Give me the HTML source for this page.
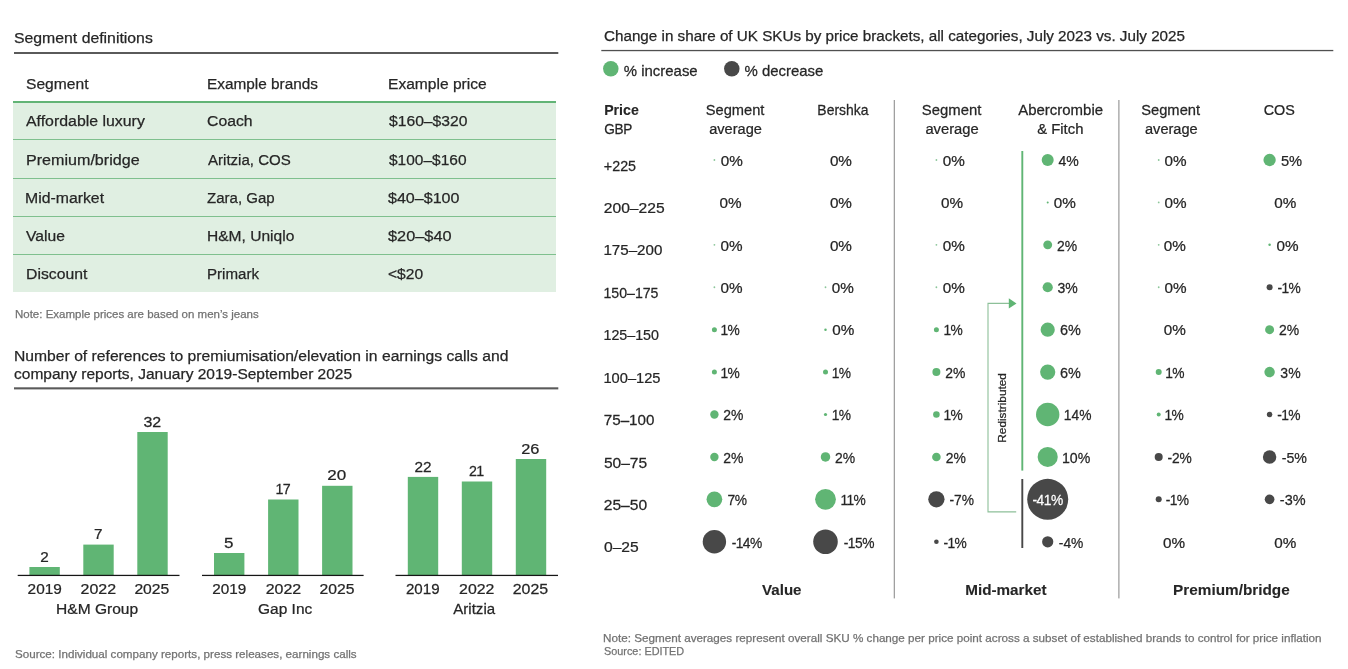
<!DOCTYPE html>
<html lang="en">
<head>
<meta charset="utf-8">
<title>Premiumisation: segment definitions and UK SKU price bracket shifts</title>
<style>
html,body{margin:0;padding:0;background:#fff;}
body{width:1348px;height:669px;overflow:hidden;position:relative;font-family:"Liberation Sans",Arial,Helvetica,sans-serif;color:#262626;-webkit-text-stroke:0.25px #262626;}
#page{position:absolute;left:0;top:0;width:1348px;height:669px;overflow:hidden;background:#fff;}
.t{position:absolute;margin:0;white-space:nowrap;font-weight:400;transform-origin:0 0;}
.note{position:absolute;margin:0;white-space:nowrap;color:#727272;transform-origin:0 0;-webkit-text-stroke:0.25px #727272;}
.seg{position:absolute;left:13px;top:66px;width:543.3px;height:226.3px;}
.seg .bg{position:absolute;left:0;top:36px;width:100%;height:190.3px;background:#e0efe2;}
.seg .ln{position:absolute;left:0;width:100%;height:1px;background:#7fc08e;}
.seg .hl{position:absolute;left:0;top:35px;width:100%;height:2px;background:#62b476;}
.seg table{position:absolute;left:0;top:0;width:100%;border-collapse:separate;border-spacing:0;}
.seg th,.seg td{padding:0;height:38px;font-weight:400;text-align:left;}
.seg span{position:absolute;white-space:nowrap;line-height:18px;transform-origin:0 0;}
svg{position:absolute;left:0;top:0;overflow:visible;}
svg text{font-family:"Liberation Sans",Arial,Helvetica,sans-serif;fill:#262626;stroke:#262626;stroke-width:0.25px;}
</style>
</head>
<body>
<div id="page">

<section>
<h2 class="t" style="left:13.99px;top:29px;font-size:15.5px;line-height:17px;transform:scaleX(1.0194);">Segment definitions</h2>
<svg class="rule" width="1348" height="669" viewBox="0 0 1348 669"><rect x="14" y="52" width="544.3" height="2" fill="#5a5a5a"/><rect x="14" y="387.3" width="544.3" height="2.1" fill="#5a5a5a"/><rect x="601.3" y="49.9" width="732" height="1.3" fill="#505050"/></svg>
<div class="seg"><div class="bg"></div><div class="hl"></div>
<div class="ln" style="top:73px"></div>
<div class="ln" style="top:112px"></div>
<div class="ln" style="top:150px"></div>
<div class="ln" style="top:188px"></div>
<table>
<thead><tr><th><span style="left:12.69px;top:9px;font-size:15.5px;line-height:17px;transform:scaleX(1.0077)">Segment</span></th><th><span style="left:194.01px;top:9px;font-size:15.5px;line-height:17px;transform:scaleX(0.9913)">Example brands</span></th><th><span style="left:374.79px;top:9px;font-size:15.5px;line-height:17px;transform:scaleX(1.0053)">Example price</span></th></tr></thead><tbody>
<tr><td><span style="left:13.40px;top:46px;font-size:15.5px;line-height:17px;transform:scaleX(1.0243)">Affordable luxury</span></td><td><span style="left:193.99px;top:46px;font-size:15.5px;line-height:17px;transform:scaleX(1.0166)">Coach</span></td><td><span style="left:375.50px;top:46px;font-size:15.5px;line-height:17px;transform:scaleX(1.0109)">$160–$320</span></td></tr>
<tr><td><span style="left:12.65px;top:85px;font-size:15.5px;line-height:17px;transform:scaleX(1.0383)">Premium/bridge</span></td><td><span style="left:194.70px;top:85px;font-size:15.5px;line-height:17px;transform:scaleX(0.9713)">Aritzia, COS</span></td><td><span style="left:375.50px;top:85px;font-size:15.5px;line-height:17px;transform:scaleX(0.9992)">$100–$160</span></td></tr>
<tr><td><span style="left:12.18px;top:123px;font-size:15.5px;line-height:17px;transform:scaleX(1.0197)">Mid-market</span></td><td><span style="left:194.21px;top:123px;font-size:15.5px;line-height:17px;transform:scaleX(0.9700)">Zara, Gap</span></td><td><span style="left:375.40px;top:123px;font-size:15.5px;line-height:17px;transform:scaleX(1.0360)">$40–$100</span></td></tr>
<tr><td><span style="left:13.10px;top:161px;font-size:15.5px;line-height:17px;transform:scaleX(1.0087)">Value</span></td><td><span style="left:193.70px;top:161px;font-size:15.5px;line-height:17px;transform:scaleX(1.0038)">H&amp;M, Uniqlo</span></td><td><span style="left:375.39px;top:161px;font-size:15.5px;line-height:17px;transform:scaleX(1.0532)">$20–$40</span></td></tr>
<tr><td><span style="left:12.68px;top:199px;font-size:15.5px;line-height:17px;transform:scaleX(1.0170)">Discount</span></td><td><span style="left:194.03px;top:199px;font-size:15.5px;line-height:17px;transform:scaleX(0.9744)">Primark</span></td><td><span style="left:374.80px;top:199px;font-size:15.5px;line-height:17px;transform:scaleX(1.0062)">&lt;$20</span></td></tr>
</tbody></table></div>
<p class="note" style="left:15.00px;top:308px;font-size:11.5px;line-height:12px;transform:scaleX(0.9987);">Note: Example prices are based on men’s jeans</p>
</section>
<section>
<h2 class="t" style="left:13.59px;top:347px;font-size:15.5px;line-height:17px;transform:scaleX(1.0120);">Number of references to premiumisation/elevation in earnings calls and</h2>
<h2 class="t" style="left:13.50px;top:365px;font-size:15.5px;line-height:17px;transform:scaleX(1.0011);">company reports, January 2019-September 2025</h2>
<svg width="1348" height="669" viewBox="0 0 1348 669">
<rect x="29.40" y="567.00" width="30.40" height="8.30" fill="#60b574"/>
<text transform="translate(40.21 562) scale(0.9861 1)" style="font-size:15.5px;">2</text>
<text transform="translate(27.61 594) scale(0.9921 1)" style="font-size:15.5px;">2019</text>
<rect x="83.30" y="544.60" width="30.40" height="30.70" fill="#60b574"/>
<text transform="translate(94.01 539) scale(0.9861 1)" style="font-size:15.5px;">7</text>
<text transform="translate(80.58 594) scale(1.0314 1)" style="font-size:15.5px;">2022</text>
<rect x="137.30" y="432.00" width="30.40" height="143.30" fill="#60b574"/>
<text transform="translate(143.49 427) scale(1.0299 1)" style="font-size:15.5px;">32</text>
<text transform="translate(134.39 594) scale(1.0132 1)" style="font-size:15.5px;">2025</text>
<rect x="17.70" y="574.80" width="161.80" height="1.25" fill="#161616"/>
<text transform="translate(56.10 614) scale(1.0036 1)" style="font-size:15.5px;">H&amp;M Group</text>
<rect x="214.00" y="553.00" width="30.40" height="22.30" fill="#60b574"/>
<text transform="translate(224.04 548) scale(1.0946 1)" style="font-size:15.5px;">5</text>
<text transform="translate(212.21 594) scale(0.9861 1)" style="font-size:15.5px;">2019</text>
<rect x="268.10" y="499.50" width="30.40" height="75.80" fill="#60b574"/>
<text transform="translate(275.47 494) scale(0.9200 1)" style="font-size:15.5px;letter-spacing:-0.70px;">17</text>
<text transform="translate(265.68 594) scale(1.0314 1)" style="font-size:15.5px;">2022</text>
<rect x="322.10" y="485.80" width="30.40" height="89.50" fill="#60b574"/>
<text transform="translate(327.13 480) scale(1.1000 1)" style="font-size:15.5px;letter-spacing:0.16px;">20</text>
<text transform="translate(319.49 594) scale(1.0132 1)" style="font-size:15.5px;">2025</text>
<rect x="202.00" y="574.80" width="161.60" height="1.25" fill="#161616"/>
<text transform="translate(258.10 614) scale(0.9976 1)" style="font-size:15.5px;">Gap Inc</text>
<rect x="407.80" y="476.90" width="30.40" height="98.40" fill="#60b574"/>
<text transform="translate(414.41 472) scale(0.9924 1)" style="font-size:15.5px;">22</text>
<text transform="translate(405.92 594) scale(0.9770 1)" style="font-size:15.5px;">2019</text>
<rect x="461.80" y="481.50" width="30.40" height="93.80" fill="#60b574"/>
<text transform="translate(468.95 476) scale(0.9200 1)" style="font-size:15.5px;letter-spacing:-0.70px;">21</text>
<text transform="translate(459.08 594) scale(1.0254 1)" style="font-size:15.5px;">2022</text>
<rect x="515.80" y="459.00" width="30.40" height="116.30" fill="#60b574"/>
<text transform="translate(521.26 454) scale(1.0553 1)" style="font-size:15.5px;">26</text>
<text transform="translate(512.68 594) scale(1.0283 1)" style="font-size:15.5px;">2025</text>
<rect x="395.50" y="574.80" width="162.50" height="1.25" fill="#161616"/>
<text transform="translate(453.30 614) scale(0.9712 1)" style="font-size:15.5px;">Aritzia</text>
</svg>
<p class="note" style="left:14.69px;top:648px;font-size:11.5px;line-height:12px;transform:scaleX(1.0104);">Source: Individual company reports, press releases, earnings calls</p>
</section>
<section>
<h2 class="t" style="left:603.70px;top:27px;font-size:15.200000000000001px;line-height:17px;transform:scaleX(1.0018);">Change in share of UK SKUs by price brackets, all categories, July 2023 vs. July 2025</h2>
<svg width="1348" height="669" viewBox="0 0 1348 669">
<circle cx="610.80" cy="68.80" r="7.75" fill="#60b574"/>
<text transform="translate(623.80 76) scale(1.0100 1)" style="font-size:14.8px;">% increase</text>
<circle cx="731.80" cy="68.80" r="7.75" fill="#484848"/>
<text transform="translate(744.49 76) scale(1.0101 1)" style="font-size:14.8px;">% decrease</text>
<text transform="translate(604.14 115) scale(0.9577 1)" style="font-size:14.8px;font-weight:700;stroke-width:0.1px">Price</text>
<text transform="translate(604.26 134) scale(0.9200 1)" style="font-size:14.8px;letter-spacing:-0.38px;">GBP</text>
<text transform="translate(705.71 115) scale(0.9911 1)" style="font-size:14.8px;">Segment</text>
<text transform="translate(709.21 134) scale(0.9875 1)" style="font-size:14.8px;">average</text>
<text transform="translate(817.37 115) scale(0.9424 1)" style="font-size:14.8px;">Bershka</text>
<text transform="translate(921.80 115) scale(1.0064 1)" style="font-size:14.8px;">Segment</text>
<text transform="translate(925.40 134) scale(0.9971 1)" style="font-size:14.8px;">average</text>
<text transform="translate(1018.20 115) scale(1.0124 1)" style="font-size:14.8px;">Abercrombie</text>
<text transform="translate(1037.20 134) scale(1.0039 1)" style="font-size:14.8px;">&amp; Fitch</text>
<text transform="translate(1141.20 115) scale(0.9945 1)" style="font-size:14.8px;">Segment</text>
<text transform="translate(1145.01 134) scale(0.9856 1)" style="font-size:14.8px;">average</text>
<text transform="translate(1263.72 115) scale(0.9707 1)" style="font-size:14.8px;">COS</text>
<rect x="893.75" y="100.00" width="1.10" height="498.40" fill="#909090"/>
<rect x="1118.35" y="100.00" width="1.10" height="498.40" fill="#909090"/>
<text transform="translate(603.83 171) scale(0.9556 1)" style="font-size:15.0px;">+225</text>
<text transform="translate(603.77 213) scale(1.0428 1)" style="font-size:15.0px;">200–225</text>
<text transform="translate(603.39 255) scale(1.0096 1)" style="font-size:15.0px;">175–200</text>
<text transform="translate(603.46 298) scale(0.9427 1)" style="font-size:15.0px;">150–175</text>
<text transform="translate(603.45 340) scale(0.9515 1)" style="font-size:15.0px;">125–150</text>
<text transform="translate(603.42 383) scale(0.9779 1)" style="font-size:15.0px;">100–125</text>
<text transform="translate(603.79 425) scale(1.0121 1)" style="font-size:15.0px;">75–100</text>
<text transform="translate(603.88 468) scale(1.0377 1)" style="font-size:15.0px;">50–75</text>
<text transform="translate(603.77 510) scale(1.0403 1)" style="font-size:15.0px;">25–50</text>
<text transform="translate(603.98 552) scale(1.0425 1)" style="font-size:15.0px;">0–25</text>
<circle cx="714.40" cy="160.00" r="0.90" fill="#8cc69a"/>
<text transform="translate(720.69 166) scale(1.0172 1)" style="font-size:15.0px;">0%</text>
<text transform="translate(719.49 208) scale(1.0172 1)" style="font-size:15.0px;">0%</text>
<circle cx="714.40" cy="244.84" r="0.90" fill="#8cc69a"/>
<text transform="translate(720.49 251) scale(1.0172 1)" style="font-size:15.0px;">0%</text>
<circle cx="714.40" cy="287.26" r="0.90" fill="#8cc69a"/>
<text transform="translate(720.49 293) scale(1.0172 1)" style="font-size:15.0px;">0%</text>
<circle cx="714.40" cy="329.68" r="2.50" fill="#60b574"/>
<text transform="translate(720.54 335) scale(0.9200 1)" style="font-size:15.0px;letter-spacing:-0.70px;">1%</text>
<circle cx="714.40" cy="372.10" r="2.50" fill="#60b574"/>
<text transform="translate(720.54 378) scale(0.9200 1)" style="font-size:15.0px;letter-spacing:-0.70px;">1%</text>
<circle cx="714.40" cy="414.52" r="4.20" fill="#60b574"/>
<text transform="translate(723.35 420) scale(0.9298 1)" style="font-size:15.0px;">2%</text>
<circle cx="714.40" cy="456.94" r="4.20" fill="#60b574"/>
<text transform="translate(723.35 463) scale(0.9298 1)" style="font-size:15.0px;">2%</text>
<circle cx="714.40" cy="499.36" r="7.85" fill="#60b574"/>
<text transform="translate(727.46 505) scale(0.9200 1)" style="font-size:15.0px;letter-spacing:-0.43px;">7%</text>
<circle cx="714.40" cy="541.78" r="11.70" fill="#484848"/>
<text transform="translate(731.65 548) scale(0.9200 1)" style="font-size:15.0px;letter-spacing:-0.57px;">-14%</text>
<text transform="translate(829.89 166) scale(1.0172 1)" style="font-size:15.0px;">0%</text>
<text transform="translate(829.89 208) scale(1.0172 1)" style="font-size:15.0px;">0%</text>
<text transform="translate(829.89 251) scale(1.0172 1)" style="font-size:15.0px;">0%</text>
<circle cx="825.50" cy="287.26" r="0.90" fill="#8cc69a"/>
<text transform="translate(831.79 293) scale(1.0172 1)" style="font-size:15.0px;">0%</text>
<circle cx="825.50" cy="329.68" r="1.25" fill="#60b574"/>
<text transform="translate(832.29 335) scale(1.0172 1)" style="font-size:15.0px;">0%</text>
<circle cx="825.50" cy="372.10" r="2.50" fill="#60b574"/>
<text transform="translate(831.84 378) scale(0.9200 1)" style="font-size:15.0px;letter-spacing:-0.70px;">1%</text>
<circle cx="825.50" cy="414.52" r="1.60" fill="#60b574"/>
<text transform="translate(831.74 420) scale(0.9200 1)" style="font-size:15.0px;letter-spacing:-0.70px;">1%</text>
<circle cx="825.50" cy="456.94" r="4.75" fill="#60b574"/>
<text transform="translate(835.05 463) scale(0.9298 1)" style="font-size:15.0px;">2%</text>
<circle cx="825.50" cy="499.36" r="10.40" fill="#60b574"/>
<text transform="translate(840.59 505) scale(0.9200 1)" style="font-size:15.0px;letter-spacing:-0.70px;">11%</text>
<circle cx="825.50" cy="541.78" r="12.30" fill="#484848"/>
<text transform="translate(843.65 548) scale(0.9200 1)" style="font-size:15.0px;letter-spacing:-0.46px;">-15%</text>
<circle cx="936.40" cy="160.00" r="0.90" fill="#8cc69a"/>
<text transform="translate(942.79 166) scale(1.0172 1)" style="font-size:15.0px;">0%</text>
<text transform="translate(940.99 208) scale(1.0172 1)" style="font-size:15.0px;">0%</text>
<circle cx="936.40" cy="244.84" r="0.90" fill="#8cc69a"/>
<text transform="translate(942.79 251) scale(1.0172 1)" style="font-size:15.0px;">0%</text>
<circle cx="936.40" cy="287.26" r="0.90" fill="#8cc69a"/>
<text transform="translate(942.79 293) scale(1.0172 1)" style="font-size:15.0px;">0%</text>
<circle cx="936.40" cy="329.68" r="2.50" fill="#60b574"/>
<text transform="translate(943.54 335) scale(0.9200 1)" style="font-size:15.0px;letter-spacing:-0.70px;">1%</text>
<circle cx="936.40" cy="372.10" r="4.00" fill="#60b574"/>
<text transform="translate(945.15 378) scale(0.9298 1)" style="font-size:15.0px;">2%</text>
<circle cx="936.40" cy="414.52" r="3.30" fill="#60b574"/>
<text transform="translate(943.54 420) scale(0.9200 1)" style="font-size:15.0px;letter-spacing:-0.70px;">1%</text>
<circle cx="936.40" cy="456.94" r="4.30" fill="#60b574"/>
<text transform="translate(945.85 463) scale(0.9298 1)" style="font-size:15.0px;">2%</text>
<circle cx="936.40" cy="499.36" r="8.15" fill="#484848"/>
<text transform="translate(949.55 505) scale(0.9200 1)" style="font-size:15.0px;letter-spacing:-0.10px;">-7%</text>
<circle cx="936.40" cy="541.78" r="2.30" fill="#484848"/>
<text transform="translate(943.50 548) scale(0.9200 1)" style="font-size:15.0px;letter-spacing:-0.70px;">-1%</text>
<circle cx="1047.70" cy="160.00" r="6.00" fill="#60b574"/>
<text transform="translate(1058.52 166) scale(0.9359 1)" style="font-size:15.0px;">4%</text>
<circle cx="1047.70" cy="202.42" r="1.00" fill="#60b574"/>
<text transform="translate(1053.79 208) scale(1.0172 1)" style="font-size:15.0px;">0%</text>
<circle cx="1047.70" cy="244.84" r="4.45" fill="#60b574"/>
<text transform="translate(1056.95 251) scale(0.9298 1)" style="font-size:15.0px;">2%</text>
<circle cx="1047.70" cy="287.26" r="5.10" fill="#60b574"/>
<text transform="translate(1057.53 293) scale(0.9353 1)" style="font-size:15.0px;">3%</text>
<circle cx="1047.70" cy="329.68" r="7.10" fill="#60b574"/>
<text transform="translate(1059.93 335) scale(0.9639 1)" style="font-size:15.0px;">6%</text>
<circle cx="1047.70" cy="372.10" r="7.60" fill="#60b574"/>
<text transform="translate(1059.93 378) scale(0.9639 1)" style="font-size:15.0px;">6%</text>
<circle cx="1047.70" cy="414.52" r="11.70" fill="#60b574"/>
<text transform="translate(1063.79 420) scale(0.9200 1)" style="font-size:15.0px;">14%</text>
<circle cx="1047.70" cy="456.94" r="10.05" fill="#60b574"/>
<text transform="translate(1061.96 463) scale(0.9444 1)" style="font-size:15.0px;">10%</text>
<circle cx="1047.70" cy="499.36" r="20.50" fill="#484848"/>
<text transform="translate(1032.45 505) scale(0.9200 1)" style="font-size:15.0px;letter-spacing:-0.46px;fill:#fff;stroke:#fff">-41%</text>
<circle cx="1047.70" cy="541.78" r="5.60" fill="#484848"/>
<text transform="translate(1058.85 548) scale(0.9205 1)" style="font-size:15.0px;">-4%</text>
<circle cx="1158.70" cy="160.00" r="0.90" fill="#8cc69a"/>
<text transform="translate(1164.49 166) scale(1.0172 1)" style="font-size:15.0px;">0%</text>
<circle cx="1158.70" cy="202.42" r="0.90" fill="#8cc69a"/>
<text transform="translate(1164.49 208) scale(1.0172 1)" style="font-size:15.0px;">0%</text>
<circle cx="1158.70" cy="244.84" r="0.90" fill="#8cc69a"/>
<text transform="translate(1163.69 251) scale(1.0172 1)" style="font-size:15.0px;">0%</text>
<circle cx="1158.70" cy="287.26" r="0.90" fill="#8cc69a"/>
<text transform="translate(1164.49 293) scale(1.0172 1)" style="font-size:15.0px;">0%</text>
<text transform="translate(1163.69 335) scale(1.0172 1)" style="font-size:15.0px;">0%</text>
<circle cx="1158.70" cy="372.10" r="3.00" fill="#60b574"/>
<text transform="translate(1165.34 378) scale(0.9200 1)" style="font-size:15.0px;letter-spacing:-0.70px;">1%</text>
<circle cx="1158.70" cy="414.52" r="2.00" fill="#60b574"/>
<text transform="translate(1164.54 420) scale(0.9200 1)" style="font-size:15.0px;letter-spacing:-0.70px;">1%</text>
<circle cx="1158.70" cy="456.94" r="4.00" fill="#484848"/>
<text transform="translate(1167.45 463) scale(0.9200 1)" style="font-size:15.0px;letter-spacing:-0.05px;">-2%</text>
<circle cx="1158.70" cy="499.36" r="3.00" fill="#484848"/>
<text transform="translate(1165.80 505) scale(0.9200 1)" style="font-size:15.0px;letter-spacing:-0.70px;">-1%</text>
<text transform="translate(1162.99 548) scale(1.0172 1)" style="font-size:15.0px;">0%</text>
<circle cx="1269.60" cy="160.00" r="6.15" fill="#60b574"/>
<text transform="translate(1280.91 166) scale(0.9786 1)" style="font-size:15.0px;">5%</text>
<text transform="translate(1274.29 208) scale(1.0172 1)" style="font-size:15.0px;">0%</text>
<circle cx="1269.60" cy="244.84" r="1.25" fill="#60b574"/>
<text transform="translate(1276.49 251) scale(1.0172 1)" style="font-size:15.0px;">0%</text>
<circle cx="1269.60" cy="287.26" r="3.00" fill="#484848"/>
<text transform="translate(1277.60 293) scale(0.9200 1)" style="font-size:15.0px;letter-spacing:-0.70px;">-1%</text>
<circle cx="1269.60" cy="329.68" r="4.50" fill="#60b574"/>
<text transform="translate(1279.05 335) scale(0.9298 1)" style="font-size:15.0px;">2%</text>
<circle cx="1269.60" cy="372.10" r="5.25" fill="#60b574"/>
<text transform="translate(1280.33 378) scale(0.9353 1)" style="font-size:15.0px;">3%</text>
<circle cx="1269.60" cy="414.52" r="2.75" fill="#484848"/>
<text transform="translate(1277.20 420) scale(0.9200 1)" style="font-size:15.0px;letter-spacing:-0.70px;">-1%</text>
<circle cx="1269.60" cy="456.94" r="6.70" fill="#484848"/>
<text transform="translate(1281.73 463) scale(0.9478 1)" style="font-size:15.0px;">-5%</text>
<circle cx="1269.60" cy="499.36" r="4.85" fill="#484848"/>
<text transform="translate(1279.82 505) scale(0.9634 1)" style="font-size:15.0px;">-3%</text>
<text transform="translate(1274.29 548) scale(1.0172 1)" style="font-size:15.0px;">0%</text>
<rect x="1021.35" y="151.00" width="1.90" height="319.60" fill="#60b574"/>
<rect x="1021.35" y="479.00" width="1.90" height="69.00" fill="#484848"/>
<path d="M1016.2 511.9 H988.0 V303.4 H1009.5" fill="none" stroke="#8dc099" stroke-width="1.1"/>
<path d="M1008.8 298.2 L1016.5 303.4 L1008.8 308.6 Z" fill="#60b574"/>
<text transform="translate(762.10 595) scale(0.9933 1)" style="font-size:15.200000000000001px;font-weight:700;stroke-width:0.1px">Value</text>
<text transform="translate(965.20 595) scale(1.0035 1)" style="font-size:15.200000000000001px;font-weight:700;stroke-width:0.1px">Mid-market</text>
<text transform="translate(1173.09 595) scale(1.0091 1)" style="font-size:15.200000000000001px;font-weight:700;stroke-width:0.1px">Premium/bridge</text>
<text transform="translate(1005.6 441.7) rotate(-90) translate(-0.95 0) scale(1.0549 1)" style="font-size:11.2px">Redistributed</text>
</svg>
<p class="note" style="left:603.09px;top:632px;font-size:11.5px;line-height:12px;transform:scaleX(1.0155);">Note: Segment averages represent overall SKU % change per price point across a subset of established brands to control for price inflation</p>
<p class="note" style="left:603.53px;top:645px;font-size:11.5px;line-height:12px;transform:scaleX(0.9435);">Source: EDITED</p>
</section>
</div>
</body>
</html>
